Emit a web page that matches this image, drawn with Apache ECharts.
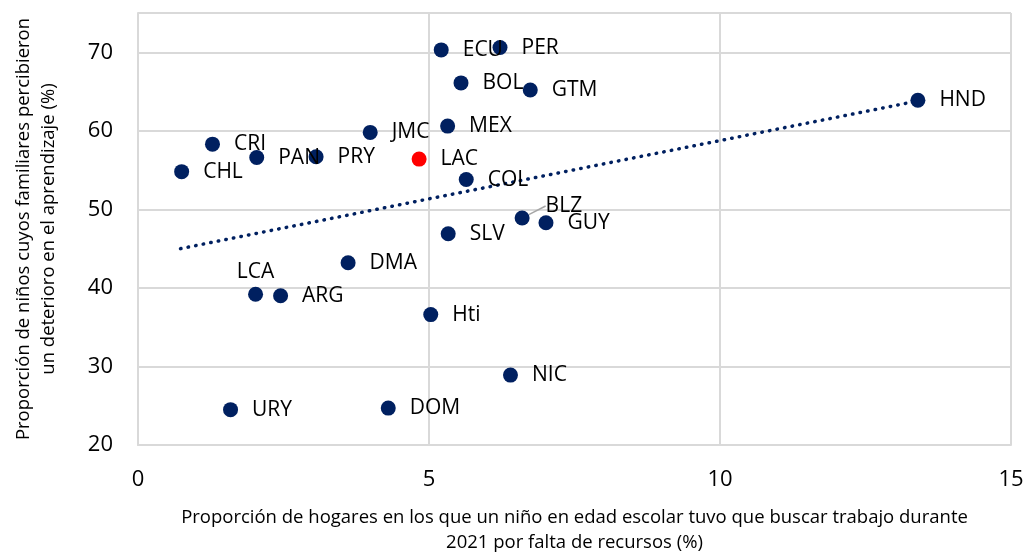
<!DOCTYPE html>
<html>
<head>
<meta charset="utf-8">
<script src="https://cdn.jsdelivr.net/npm/echarts@6/dist/echarts.min.js"></script>
<style>
  html, body { margin: 0; padding: 0; background: #fff; }
  #chart { width: 1024px; height: 552px; }
</style>
</head>
<body>
<div id="chart"></div>
<script>
// países y valores
const countries = ['CHL', 'CRI', 'PAN', 'PRY', 'JMC', 'LAC', 'ECU', 'PER', 'BOL', 'GTM', 'MEX', 'COL',
  'BLZ', 'GUY', 'SLV', 'DMA', 'LCA', 'ARG', 'Hti', 'NIC', 'URY', 'DOM', 'HND']
const xVals = [0.75, 1.28, 2.04, 3.06, 3.99, 4.83, 5.21, 6.22, 5.55, 6.74, 5.32, 5.64,
  6.60, 7.01, 5.33, 3.61, 2.02, 2.45, 5.03, 6.40, 1.59, 4.30, 13.40]
const yVals = [54.8, 58.3, 56.6, 56.7, 59.8, 56.4, 70.3, 70.6, 66.1, 65.2, 60.6, 53.8,
  48.9, 48.3, 46.9, 43.2, 39.2, 39.0, 36.6, 28.9, 24.5, 24.7, 63.9]

// línea de tendencia (extremos leídos)
const trendX = [0.73, 13.4]
const trendY = [45.0, 63.8]

const xTicks = [0, 5, 10, 15]
const yTicks = [20, 30, 40, 50, 60, 70]

const NAVY = '#002060'
const FONT = 'Open Sans'

const chart = echarts.init(document.getElementById('chart'))

const points = countries.map((name, i) => {
  const item = { name: name, value: [xVals[i], yVals[i]] }
  if (name === 'LAC') item.itemStyle = { color: '#ff0000' }
  if (name === 'LCA') item.label = { position: 'top', distance: 4, offset: [19, 0] }
  if (name === 'BLZ') {
    item.labelLine = { show: true, lineStyle: { color: '#a6a6a6', width: 1.5 } }
  }
  return item
})

const option = {
  animation: false,
  grid: { left: 138, right: 13, top: 13, bottom: 107, outerBoundsMode: 'none' },
  xAxis: {
    type: 'value',
    min: 0,
    max: 15,
    interval: 5,
    name: 'Proporción de hogares en los que un niño en edad escolar tuvo que buscar trabajo durante\n2021 por falta de recursos (%)',
    nameLocation: 'middle',
    nameGap: 60,
    nameTextStyle: { fontFamily: FONT, fontSize: 18.5, color: '#000', lineHeight: 25 },
    axisLine: { show: true, lineStyle: { color: '#d9d9d9', width: 2 } },
    axisTick: { show: false },
    axisLabel: {
      fontFamily: FONT, fontSize: 22, color: '#000', margin: 24,
      formatter: v => xTicks.includes(v) ? String(v) : ''
    },
    splitLine: { show: true, lineStyle: { color: '#d9d9d9', width: 2 } }
  },
  yAxis: {
    type: 'value',
    min: 20,
    max: 75,
    interval: 10,
    name: 'Proporción de niños cuyos familiares percibieron\nun deterioro en el aprendizaje (%)',
    nameLocation: 'middle',
    nameGap: 77,
    nameRotate: 90,
    nameTextStyle: { fontFamily: FONT, fontSize: 18.5, color: '#000', lineHeight: 25 },
    axisLine: { show: true, lineStyle: { color: '#d9d9d9', width: 2 } },
    axisTick: { show: false },
    axisLabel: {
      fontFamily: FONT, fontSize: 22, color: '#000', margin: 25,
      formatter: v => yTicks.includes(v) ? String(v) : ''
    },
    splitLine: { show: true, lineStyle: { color: '#d9d9d9', width: 2 } }
  },
  series: [
    {
      type: 'line',
      data: trendX.map((x, i) => [x, trendY[i]]),
      symbol: 'none',
      z: 1,
      lineStyle: { color: NAVY, width: 3.5, type: [0.5, 7.2], cap: 'round' }
    },
    {
      type: 'scatter',
      data: points,
      symbolSize: 15,
      z: 2,
      itemStyle: { color: NAVY, opacity: 1 },
      label: {
        show: true,
        position: 'right',
        distance: 14,
        formatter: '{b}',
        fontFamily: FONT,
        fontSize: 21,
        color: '#000'
      },
      labelLayout: function (p) {
        if (countries[p.dataIndex] === 'BLZ') return { dx: 2, dy: -12 }
      }
    }
  ]
}

chart.setOption(option)
</script>
</body>
</html>
